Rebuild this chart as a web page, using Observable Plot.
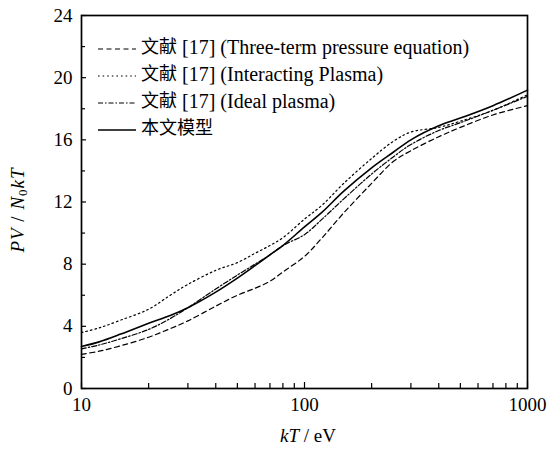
<!DOCTYPE html>
<html><head><meta charset="utf-8">
<script src="https://cdn.jsdelivr.net/npm/d3@7"></script>
<script src="https://cdn.jsdelivr.net/npm/@observablehq/plot@0.6"></script>
<style>
body{margin:0;background:#fff;}
#wrap{position:relative;width:559px;height:449px;}
svg text{font-family:"Liberation Serif","Noto Sans CJK SC",serif;}
</style></head><body><div id="wrap"></div>
<script>
// kT (eV)
const kT = [10,12,15,20,25,30,40,50,60,70,80,100,120,150,200,250,300,400,500,700,1000];
// PV/N0kT
const threeTerm   = [2.2,2.4,2.75,3.3,3.85,4.35,5.3,6.0,6.45,6.9,7.5,8.5,9.7,11.3,13.2,14.6,15.3,16.2,16.8,17.6,18.2];
const interacting = [3.6,3.9,4.4,5.1,6.0,6.7,7.6,8.1,8.7,9.2,9.7,10.9,11.8,13.2,14.8,15.9,16.5,16.8,17.2,17.9,18.9];
const idealPlasma = [2.55,2.8,3.2,3.8,4.5,5.2,6.4,7.3,8.0,8.6,9.2,9.9,10.9,12.2,13.8,14.9,15.7,16.6,17.1,17.9,18.8];
const model       = [2.7,3.0,3.5,4.2,4.7,5.2,6.2,7.1,7.9,8.6,9.2,10.4,11.35,12.7,14.2,15.2,16.0,16.9,17.4,18.2,19.2];

const seriesCJK = ["文献","文献","文献","本文模型"];
const seriesLatin = [" [17] (Three-term pressure equation)"," [17] (Interacting Plasma)"," [17] (Ideal plasma)",""];
const seriesValues = [threeTerm, interacting, idealPlasma, model];
const seriesDash = ["5,3.5","1.6,3","5,2,1.5,2",null];
const seriesWidth = [1.2,1.2,1.2,1.6];

const xMajor = [10,100,1000];
const xMinor = [20,30,40,50,60,70,80,90,200,300,400,500,600,700,800,900];
const yMajor = [0,4,8,12,16,20,24];
const yMinor = [2,6,10,14,18,22];

const rows = kT.map((x,i)=>({x,i}));
const lineMarks = seriesValues.map((vals,s)=>Plot.line(rows,{x:"x",y:d=>vals[d.i],stroke:"black",strokeWidth:seriesWidth[s],strokeDasharray:seriesDash[s],curve:"catmull-rom"}));

const SERIF = '"Liberation Serif","Noto Sans CJK SC",serif';
const W=559,H=449,ML=81,MR=32,MT=15,MB=61;
const PW=W-ML-MR, PH=H-MT-MB;
const chart = Plot.plot({
  width:W,height:H,marginLeft:ML,marginRight:MR,marginTop:MT,marginBottom:MB,
  style:{fontFamily:SERIF,fontSize:"19px",color:"black",background:"white"},
  x:{type:"log",domain:[10,1000]},
  y:{domain:[0,24]},
  marks:[
    ...lineMarks,
    Plot.axisX({ticks:xMajor,tickSize:0,tickPadding:9,tickFormat:d=>String(d),label:null}),
    Plot.axisY({ticks:yMajor,tickSize:0,tickPadding:9,label:null}),
    Plot.tickX(xMajor,{x:d=>d,stroke:"black",strokeWidth:1.2,insetTop:PH-6}),
    Plot.tickX(xMinor,{x:d=>d,stroke:"black",strokeWidth:1.2,insetTop:PH-5}),
    Plot.tickY(yMajor,{y:d=>d,stroke:"black",strokeWidth:1.2,insetRight:PW-5}),
    Plot.tickY(yMinor,{y:d=>d,stroke:"black",strokeWidth:1.2,insetRight:PW-4}),
    Plot.frame({stroke:"black",strokeWidth:1.7})
  ]
});
document.getElementById("wrap").appendChild(chart);

const svg = d3.select(chart);
// axis titles
const xt = svg.append("text").attr("x",ML+PW/2+4).attr("y",438).attr("text-anchor","middle")
  .attr("dominant-baseline","middle").attr("font-size",19).attr("font-family",SERIF);
xt.append("tspan").attr("font-style","italic").text("kT");
xt.append("tspan").text(" / eV");
const yt = svg.append("text").attr("transform",`translate(20,210) rotate(-90)`).attr("text-anchor","middle")
  .attr("dominant-baseline","middle").attr("font-size",19).attr("font-family",SERIF).attr("letter-spacing",1);
yt.append("tspan").attr("font-style","italic").text("PV");
yt.append("tspan").text(" / ");
yt.append("tspan").attr("font-style","italic").text("N");
yt.append("tspan").attr("font-size",13).attr("dy",4).text("0");
yt.append("tspan").attr("font-style","italic").attr("dy",-4).text("kT");

// legend
const lg = svg.append("g").attr("text-anchor","start");
seriesCJK.forEach((cjk,s)=>{
  const y = 49 + s*27;
  lg.append("line").attr("x1",98).attr("x2",136).attr("y1",y).attr("y2",y)
    .attr("stroke","black").attr("stroke-width",seriesWidth[s]).attr("stroke-dasharray",seriesDash[s]);
  const t = lg.append("text").attr("x",141).attr("y",y).attr("text-anchor","start")
    .attr("dominant-baseline","middle").attr("font-family",SERIF);
  t.append("tspan").attr("style","font-size:18px").text(cjk);
  t.append("tspan").attr("style","font-size:20px").text(seriesLatin[s]);
});
</script></body></html>
